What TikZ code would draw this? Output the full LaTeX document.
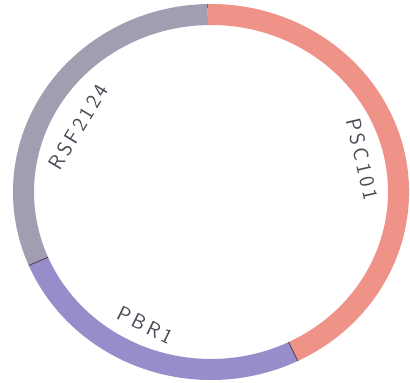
\documentclass[tikz,border=0pt]{standalone}
\usepackage{fontspec}
\definecolor{pinkseg}{RGB}{239,146,136}
\definecolor{grayseg}{RGB}{163,157,178}
\definecolor{purpseg}{RGB}{152,140,202}
\definecolor{edgeline}{RGB}{70,62,80}
\definecolor{labelcol}{RGB}{78,72,86}
\newcommand{\lsp}{\kern3.5pt}
\tikzset{
  seglabel/.style={text=labelcol, font=\sffamily\fontsize{21}{21}\selectfont, inner sep=0pt},
  segedge/.style={draw=edgeline, line width=0.8pt}
}
\newcommand{\ringseg}[3]{%
  \fill[#1] (#2:198pt and 188pt) arc[start angle=#2, end angle=#3, x radius=198pt, y radius=188pt]
    -- (#3:177pt and 167pt) arc[start angle=#3, end angle=#2, x radius=177pt, y radius=167pt] -- cycle;}
\begin{document}
\begin{tikzpicture}
\useasboundingbox (0,0) rectangle (410pt,383pt);
\fill[white] (0,0) rectangle (410pt,383pt);
\begin{scope}[shift={(211pt,191pt)}]
  \ringseg{pinkseg}{-64}{91}
  \ringseg{grayseg}{91}{203}
  \ringseg{purpseg}{203}{296}
  \draw[segedge] (203:177pt and 167pt) -- (203:198pt and 188pt);
  \draw[segedge] (-64:177pt and 167pt) -- (-64:198pt and 188pt);
  \draw[segedge, line width=0.5pt] (91:194pt and 184pt) -- (91:198pt and 188pt);
\end{scope}
\node[seglabel, rotate=59] (rsf) at (78pt,256pt) {R\lsp S\lsp F\lsp 2\lsp 1\lsp 2\lsp 4};
\node[seglabel, rotate=-77] (psc) at (362pt,224pt) {P\lsp S\lsp C\lsp 1\lsp 0\lsp 1};
\node[seglabel, rotate=-26] (pbr) at (145pt,58pt) {P\lsp B\lsp R\lsp 1};
\end{tikzpicture}
\end{document}
